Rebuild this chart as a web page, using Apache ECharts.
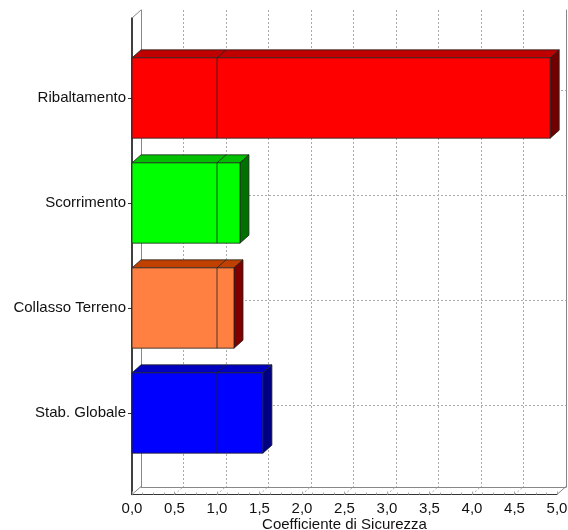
<!DOCTYPE html>
<html>
<head>
<meta charset="utf-8">
<script src="https://cdn.jsdelivr.net/npm/echarts@6/dist/echarts.min.js"></script>
<style>
  html, body { margin: 0; padding: 0; background: #fff; }
  #chart { width: 568px; height: 530px; }
</style>
</head>
<body>
<div id="chart"></div>
<script>
var CATEGORIES = ['Ribaltamento', 'Scorrimento', 'Collasso Terreno', 'Stab. Globale'];
var VALUES = [4.92, 1.27, 1.20, 1.54];
var THRESHOLD = 1.0;
var FRONT = ['#ff0000', '#00ff00', '#ff8040', '#0000ff'];
var TOP = ['#c00000', '#00c000', '#c04000', '#0000c0'];
var SIDE = ['#700000', '#007000', '#800000', '#000080'];
var X_TICKS = [0, 0.5, 1, 1.5, 2, 2.5, 3, 3.5, 4, 4.5, 5];

var DX = 9, DY = -8;   // profondita' finta 3D
var FONT = "'Liberation Sans', Arial, sans-serif";

var chart = echarts.init(document.getElementById('chart'));

function fmt(v) {
    return v.toFixed(1).replace('.', ',');
}

// barre pseudo 3D
function renderBar(params, api) {
    var v = api.value(0);
    var cat = api.value(1);
    var i = params.dataIndex;
    var p0 = api.coord([0, cat]);
    var p1 = api.coord([THRESHOLD, cat]);
    var pv = api.coord([v, cat]);
    var h = api.size([0, 1])[1] * 0.765;
    var yt = p0[1] - h / 2, yb = p0[1] + h / 2;
    var x0 = p0[0], x1 = p1[0], xv = pv[0];
    var edge = { stroke: '#222', lineWidth: 0.8 };
    var children = [
        { type: 'polygon', shape: { points: [[x0, yt], [xv, yt], [xv + DX, yt + DY], [x0 + DX, yt + DY]] },
          style: Object.assign({ fill: TOP[i] }, edge) },
        { type: 'polygon', shape: { points: [[xv, yt], [xv + DX, yt + DY], [xv + DX, yb + DY], [xv, yb]] },
          style: Object.assign({ fill: SIDE[i] }, edge) },
        { type: 'rect', shape: { x: x0, y: yt, width: xv - x0, height: h },
          style: Object.assign({ fill: FRONT[i] }, edge) }
    ];
    if (v > THRESHOLD) {
        children.push({ type: 'line', shape: { x1: x1, y1: yt, x2: x1, y2: yb }, style: edge });
        children.push({ type: 'line', shape: { x1: x1, y1: yt, x2: x1 + DX, y2: yt + DY }, style: edge });
    }
    return { type: 'group', children: children };
}

// diagonali del pavimento e spigoli
function renderFloor(params, api) {
    var t = api.value(0);
    var p = api.coord([t, 0]);
    var solid = (t === 0 || t === 5);
    var children = [{
        type: 'line',
        shape: { x1: p[0], y1: p[1], x2: p[0] + DX, y2: p[1] + DY },
        style: { stroke: solid ? '#888' : '#aaa', lineWidth: 1, lineDash: solid ? null : [2, 2] }
    }];
    if (t === 0) {
        var q = api.coord([0, 1]);
        children.push({
            type: 'line',
            shape: { x1: q[0], y1: q[1], x2: q[0] + DX, y2: q[1] + DY },
            style: { stroke: '#888', lineWidth: 1 }
        });
    }
    return { type: 'group', children: children };
}

var barData = VALUES.map(function (v, i) { return [v, i]; });
var floorData = X_TICKS.map(function (t) { return [t]; });

chart.setOption({
    animation: false,
    backgroundColor: '#fff',
    textStyle: { fontFamily: FONT },
    grid: [
        { left: 132, right: 11, top: 18, bottom: 35.5, outerBoundsMode: 'none', containLabel: false },   // piano frontale
        { left: 132, right: 11, top: 45.5, bottom: 64.5, outerBoundsMode: 'none', containLabel: false }, // barre
        { left: 141, right: 2, top: 10, bottom: 43, outerBoundsMode: 'none', containLabel: false },      // parete di fondo
        { left: 141, right: 2, top: 90, bottom: 125, outerBoundsMode: 'none', containLabel: false }      // linee orizzontali
    ],
    xAxis: [
        {
            gridIndex: 0, type: 'value', min: 0, max: 5, interval: 0.5,
            axisLine: { show: true, lineStyle: { color: '#333', width: 1 } },
            axisTick: { show: true, inside: true, length: 3, lineStyle: { color: '#aaa' } },
            minorTick: { show: true, splitNumber: 4, length: 2, lineStyle: { color: '#aaa' } },
            splitLine: { show: false },
            axisLabel: { formatter: fmt, color: '#111', fontSize: 15, margin: 7, fontFamily: FONT },
            name: 'Coefficiente di Sicurezza', nameLocation: 'middle', nameGap: 23,
            nameMoveOverlap: false,
            nameTextStyle: { color: '#111', fontSize: 15, fontFamily: FONT }
        },
        { gridIndex: 1, type: 'value', min: 0, max: 5, show: false },
        {
            gridIndex: 2, type: 'value', min: 0, max: 5, interval: 0.5,
            axisLine: { show: true, lineStyle: { color: '#888' } },
            axisTick: { show: false }, axisLabel: { show: false },
            splitLine: { show: true, lineStyle: { color: '#aaa', type: [2, 2] } }
        },
        { gridIndex: 3, type: 'value', min: 0, max: 5, show: false }
    ],
    yAxis: [
        {
            gridIndex: 0, type: 'value', min: 0, max: 1,
            axisLine: { show: true, lineStyle: { color: '#000', width: 1.5 } },
            axisTick: { show: false }, axisLabel: { show: false }, splitLine: { show: false }
        },
        {
            gridIndex: 1, type: 'category', data: CATEGORIES, inverse: true,
            axisLine: { show: false },
            axisTick: { show: true, alignWithLabel: true, length: 4, lineStyle: { color: '#333' } },
            axisLabel: { color: '#111', fontSize: 15, margin: 6, fontFamily: FONT }
        },
        {
            gridIndex: 2, type: 'value', min: 0, max: 1, position: 'left',
            axisLine: { show: true, lineStyle: { color: '#888' } },
            axisTick: { show: false }, axisLabel: { show: false }, splitLine: { show: false }
        },
        {
            gridIndex: 2, type: 'value', min: 0, max: 1, position: 'right',
            axisLine: { show: true, lineStyle: { color: '#888' } },
            axisTick: { show: false }, axisLabel: { show: false }, splitLine: { show: false }
        },
        {
            gridIndex: 3, type: 'category', data: CATEGORIES, inverse: true, boundaryGap: false,
            axisLine: { show: false }, axisTick: { show: false }, axisLabel: { show: false },
            splitLine: { show: true, lineStyle: { color: '#aaa', type: [2, 2] } }
        }
    ],
    series: [
        {
            type: 'custom', xAxisIndex: 0, yAxisIndex: 0,
            renderItem: renderFloor, data: floorData, z: 1, silent: true
        },
        {
            type: 'custom', xAxisIndex: 1, yAxisIndex: 1,
            renderItem: renderBar, data: barData, z: 5,
            encode: { x: 0, y: 1 }
        }
    ]
});
</script>
</body>
</html>
